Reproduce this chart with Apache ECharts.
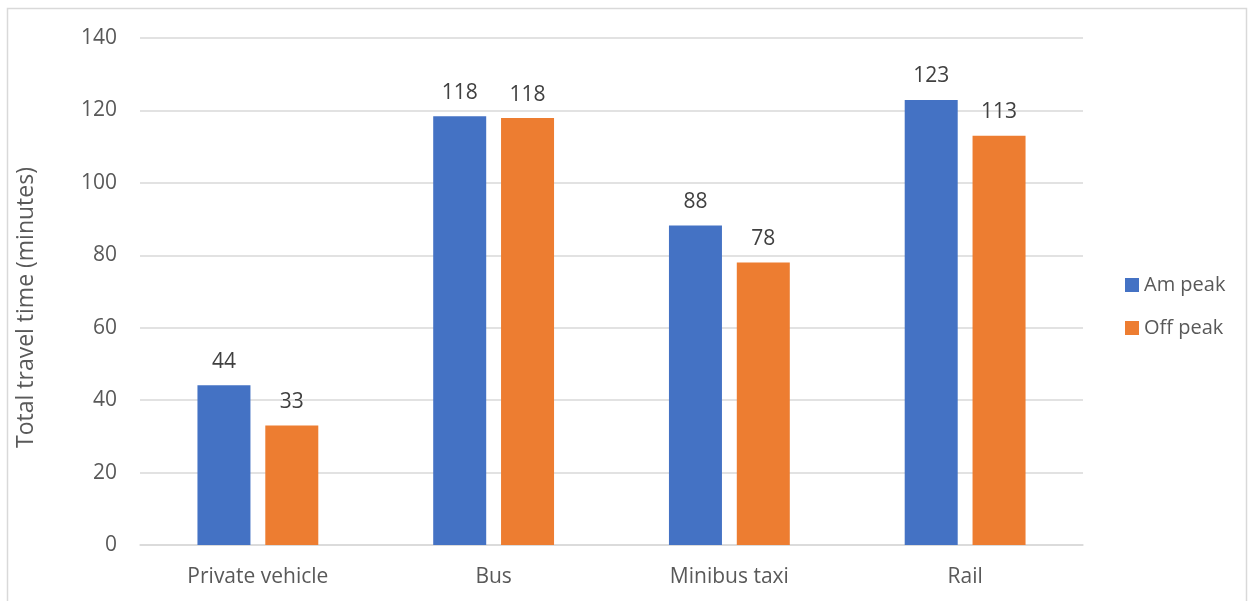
<!DOCTYPE html>
<html>
<head>
<meta charset="utf-8">
<script src="https://cdn.jsdelivr.net/npm/echarts@6/dist/echarts.min.js"></script>
<style>
  html, body { margin: 0; padding: 0; background: #fff; }
  #chart { width: 1250px; height: 601px; }
</style>
</head>
<body>
<div id="chart"></div>
<script>
const categories = ['Private vehicle', 'Bus', 'Minibus taxi', 'Rail']
const amPeak = [44.1, 118.4, 88.2, 122.9]
const offPeak = [33, 117.9, 78, 113]
const yTicks = { min: 0, max: 140, interval: 20 }

const FONT = '"Open Sans", "Liberation Sans", sans-serif'
const TEXT = '#595959'

const chart = echarts.init(document.getElementById('chart'))

const label = {
  show: true,
  position: 'top',
  distance: 13,
  color: '#404040',
  fontFamily: FONT,
  fontSize: 21,
  formatter: (p) => Math.round(p.value),
}

chart.setOption({
  animation: false,
  textStyle: { fontFamily: FONT },
  graphic: [{
    type: 'rect',
    shape: { x: 7.5, y: 8.5, width: 1239, height: 600 },
    style: { fill: 'none', stroke: '#d9d9d9', lineWidth: 1.5 },
    silent: true,
  }],
  legend: {
    orient: 'vertical',
    left: 1120,
    top: 270,
    itemWidth: 14,
    itemHeight: 14,
    itemGap: 23,
    icon: 'rect',
    textStyle: { color: TEXT, fontSize: 20, fontFamily: FONT },
    data: ['Am peak', 'Off peak'],
  },
  grid: { left: 140, right: 167, top: 38, bottom: 56 },
  xAxis: {
    type: 'category',
    data: categories,
    axisTick: { show: false },
    axisLine: { lineStyle: { color: '#d9d9d9', width: 1.5 } },
    axisLabel: { color: TEXT, fontSize: 21, fontFamily: FONT, margin: 22 },
  },
  yAxis: {
    type: 'value',
    min: yTicks.min,
    max: yTicks.max,
    interval: yTicks.interval,
    name: 'Total travel time (minutes)',
    nameLocation: 'middle',
    nameGap: 102,
    nameTextStyle: { color: TEXT, fontSize: 23, fontFamily: FONT, padding: [0, 32, 0, 0] },
    axisLabel: { color: TEXT, fontSize: 21, fontFamily: FONT, margin: 23 },
    splitLine: { lineStyle: { color: '#d9d9d9', width: 1.5 } },
    axisLine: { show: false },
    axisTick: { show: false },
  },
  series: [
    {
      name: 'Am peak',
      type: 'bar',
      data: amPeak,
      barWidth: 53,
      barGap: '28%',
      itemStyle: { color: '#4472c4' },
      label,
    },
    {
      name: 'Off peak',
      type: 'bar',
      data: offPeak,
      barWidth: 53,
      itemStyle: { color: '#ed7d31' },
      label,
    },
  ],
})
</script>
</body>
</html>
